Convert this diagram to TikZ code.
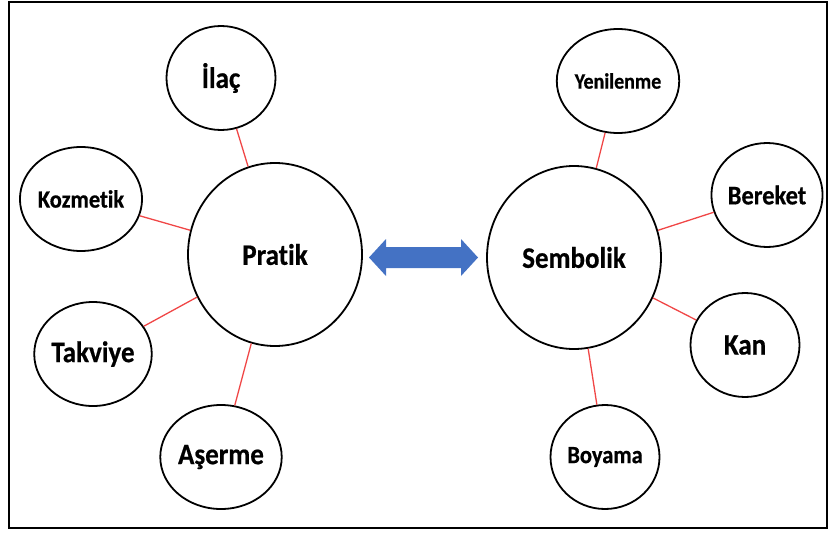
\documentclass[tikz,border=0pt]{standalone}
\usepackage{fontspec}
\setmainfont[Ligatures={NoCommon},BoldFeatures={FakeBold=0.6}]{Carlito}
\usetikzlibrary{shapes.geometric}
\definecolor{linkred}{RGB}{240,70,70}
\definecolor{arrowblue}{RGB}{68,114,196}
\newcommand{\talltxt}[1]{\scalebox{1}[1.1]{#1}}
\tikzset{
  leaf/.style={ellipse, draw=black, line width=1.8pt, minimum width=109pt, minimum height=104pt, inner sep=0pt, font=\bfseries},
  hub/.style={ellipse, draw=black, line width=1.8pt, minimum width=174pt, minimum height=183pt, inner sep=0pt, font=\bfseries\fontsize{27}{30}\selectfont},
  link/.style={draw=linkred, line width=1.3pt},
  fsA/.style={font=\bfseries\fontsize{27}{30}\selectfont},
  fsB/.style={font=\bfseries\fontsize{22.5}{26}\selectfont},
  fsC/.style={font=\bfseries\fontsize{20}{24}\selectfont},
  fsD/.style={font=\bfseries\fontsize{24.5}{28}\selectfont}
}
\begin{document}
\begin{tikzpicture}[x=1pt,y=-1pt]
\useasboundingbox (0,0) rectangle (829,535);
\draw[line width=2.2pt] (9,2) rectangle (827,528);
% hubs
\node[hub] (pratik) at (275,254.5) {\talltxt{Pratik}};
\node[hub] (sembolik) at (574,257.5) {\talltxt{Sembolik}};
% left leaves
\node[leaf,fsA] (ilac) at (221,78) {\talltxt{İlaç}};
\node[leaf,fsB] (kozmetik) at (81,199) {\talltxt{Kozmetik}};
\node[leaf,fsA] (takviye) at (93,354) {\talltxt{Takviye}};
\node[leaf,fsA] (aserme) at (221,457) {\talltxt{Aşerme}};
% right leaves
\node[leaf,fsC] (yenilenme) at (618,81) {\talltxt{Yenilenme}};
\node[leaf,fsD] (bereket) at (767,195) {\talltxt{Bereket}};
\node[leaf,fsA] (kan) at (745,345) {\talltxt{Kan}};
\node[leaf,fsB] (boyama) at (605,457) {\talltxt{Boyama}};
% links
\draw[link] (ilac) -- (pratik);
\draw[link] (kozmetik) -- (pratik);
\draw[link] (takviye) -- (pratik);
\draw[link] (aserme) -- (pratik);
\draw[link] (yenilenme) -- (sembolik);
\draw[link] (bereket) -- (sembolik);
\draw[link] (kan) -- (sembolik);
\draw[link] (boyama) -- (sembolik);
% double block arrow
\fill[arrowblue] (369,257.5) -- (386,239) -- (386,247) -- (461,247) -- (461,239)
  -- (478,257.5) -- (461,276) -- (461,268) -- (386,268) -- (386,276) -- cycle;
\end{tikzpicture}
\end{document}
